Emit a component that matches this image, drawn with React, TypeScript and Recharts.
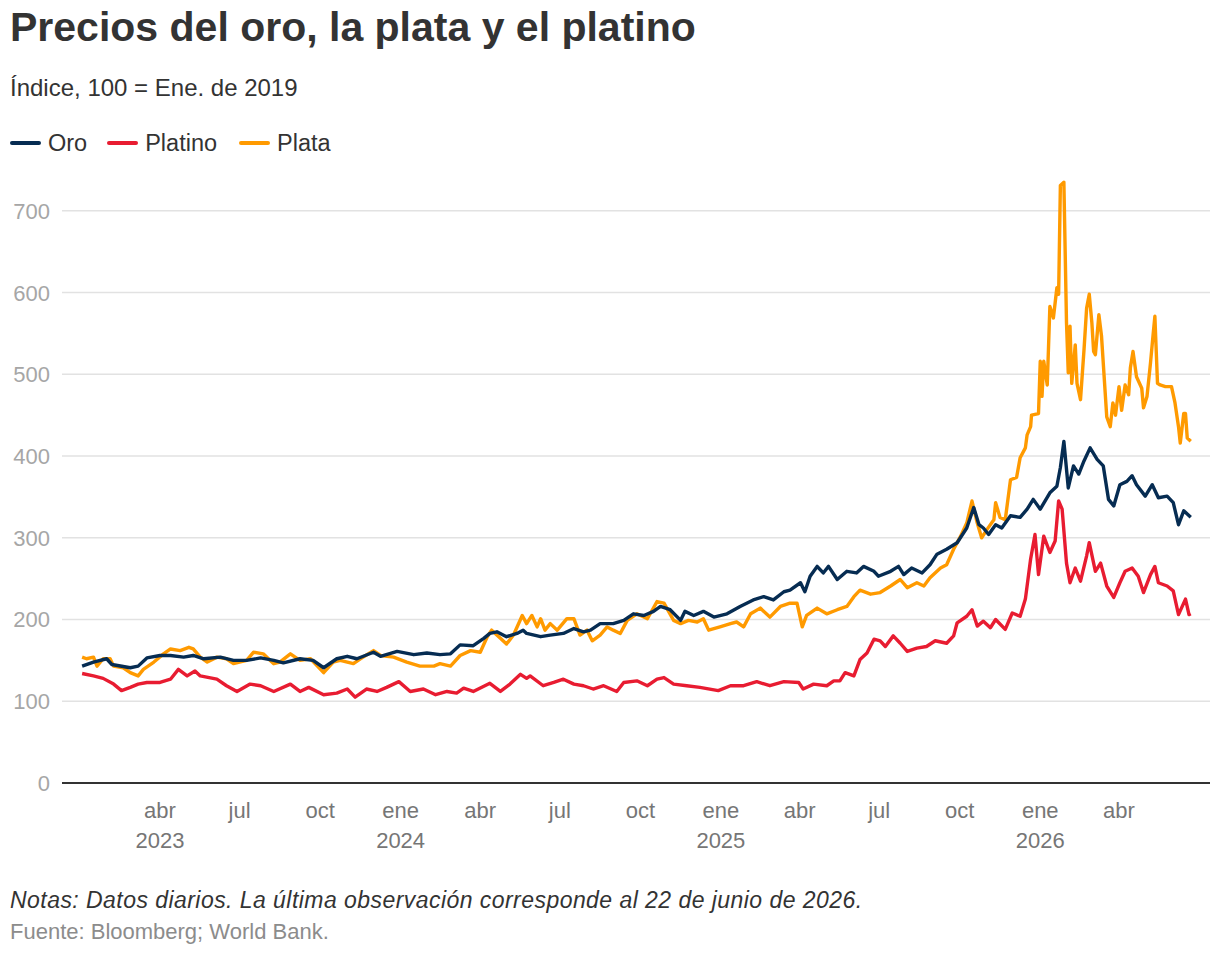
import React from "react";
import { LineChart, Line, XAxis, YAxis, ReferenceLine } from "recharts";

// days counted from 1 Jan 2023, index 100 = Jan 2019
const oro: [number, number][] = [
  [1, 143], [14, 148], [29, 152], [35, 145], [56, 141], [65, 143], [75, 153], [90, 156], [102, 156], [117, 154],
  [128, 156], [140, 152], [159, 154], [174, 150], [189, 150], [205, 153], [220, 150], [231, 147], [250, 152], [265, 150],
  [277, 141], [292, 152], [304, 155], [315, 152], [334, 160], [342, 155], [361, 161], [380, 157], [395, 159], [410, 157],
  [422, 158], [433, 169], [448, 168], [460, 177], [467, 183], [475, 185], [486, 179], [498, 183], [505, 187], [509, 183],
  [525, 179], [536, 181], [551, 183], [563, 189], [574, 185], [582, 187], [593, 195], [608, 195], [620, 199], [631, 207],
  [643, 205], [654, 210], [662, 216], [673, 212], [685, 199], [690, 210], [700, 205], [711, 210], [723, 203], [738, 207],
  [753, 216], [768, 224], [780, 228], [791, 224], [803, 234], [810, 236], [822, 245], [827, 234], [833, 253], [841, 265],
  [848, 257], [854, 265], [864, 249], [875, 259], [886, 257], [894, 265], [906, 259], [911, 253], [925, 259], [934, 265],
  [940, 255], [949, 263], [961, 257], [970, 267], [978, 280], [989, 286], [1001, 294], [1012, 312], [1020, 337], [1026, 316],
  [1031, 312], [1037, 304], [1045, 316], [1052, 312], [1062, 327], [1073, 325], [1081, 335], [1088, 347], [1096, 335], [1107, 355],
  [1115, 363], [1119, 386], [1123, 418], [1128, 361], [1134, 388], [1140, 378], [1146, 394], [1153, 410], [1161, 396], [1168, 388],
  [1174, 347], [1180, 339], [1187, 365], [1195, 369], [1201, 376], [1206, 365], [1216, 351], [1224, 365], [1231, 349], [1241, 351],
  [1248, 343], [1254, 316], [1260, 333], [1268, 325],
];

const platino: [number, number][] = [
  [1, 134], [14, 131], [25, 128], [37, 121], [46, 113], [56, 117], [65, 121], [75, 123], [90, 123], [102, 127],
  [111, 139], [121, 131], [130, 137], [136, 131], [155, 127], [166, 119], [178, 112], [193, 121], [205, 119], [220, 112],
  [239, 121], [250, 112], [260, 117], [277, 108], [292, 110], [304, 115], [313, 105], [326, 115], [338, 112], [349, 117],
  [363, 124], [376, 112], [391, 115], [405, 108], [418, 112], [429, 110], [437, 116], [448, 112], [467, 122], [479, 112],
  [490, 121], [502, 133], [509, 128], [513, 131], [528, 119], [540, 123], [551, 127], [563, 121], [574, 119], [585, 115],
  [597, 119], [612, 112], [620, 123], [635, 125], [647, 119], [658, 127], [666, 129], [677, 121], [692, 119], [707, 117],
  [728, 113], [742, 119], [757, 119], [772, 124], [787, 119], [803, 124], [820, 123], [825, 115], [837, 121], [852, 119],
  [860, 125], [867, 125], [873, 135], [883, 131], [890, 151], [898, 159], [906, 176], [913, 174], [919, 167], [928, 180],
  [936, 171], [944, 161], [955, 165], [966, 167], [976, 174], [989, 171], [997, 180], [1001, 196], [1012, 204], [1018, 212],
  [1024, 192], [1031, 198], [1039, 190], [1045, 200], [1056, 188], [1064, 208], [1073, 204], [1079, 225], [1085, 274], [1090, 304],
  [1094, 255], [1100, 302], [1107, 282], [1113, 296], [1117, 345], [1121, 335], [1126, 269], [1130, 245], [1136, 263], [1142, 247],
  [1149, 278], [1152, 294], [1159, 259], [1165, 269], [1172, 241], [1180, 227], [1187, 245], [1193, 259], [1201, 263], [1208, 253],
  [1214, 233], [1222, 255], [1227, 265], [1231, 245], [1241, 241], [1248, 235], [1254, 206], [1262, 225], [1266, 206], [1268, 207],
];

const plata: [number, number][] = [
  [1, 154], [6, 152], [14, 154], [18, 143], [25, 152], [33, 152], [37, 143], [48, 141], [56, 135], [65, 131],
  [71, 139], [83, 148], [94, 158], [102, 164], [113, 162], [123, 166], [128, 164], [136, 154], [144, 148], [155, 154],
  [166, 152], [174, 146], [189, 150], [197, 160], [208, 158], [220, 146], [227, 148], [239, 158], [250, 150], [262, 152],
  [277, 135], [288, 148], [296, 150], [311, 146], [319, 152], [334, 162], [342, 156], [357, 154], [372, 148], [387, 143],
  [403, 143], [410, 146], [422, 143], [433, 156], [445, 162], [456, 160], [464, 179], [469, 187], [479, 177], [486, 170],
  [494, 181], [504, 205], [509, 195], [515, 205], [521, 191], [525, 201], [530, 187], [536, 195], [544, 187], [555, 201],
  [563, 201], [570, 181], [578, 187], [584, 174], [593, 181], [601, 191], [608, 187], [616, 183], [624, 199], [635, 207],
  [647, 201], [658, 222], [666, 220], [677, 199], [685, 195], [694, 199], [704, 197], [711, 201], [717, 187], [730, 191],
  [742, 195], [749, 197], [757, 191], [765, 207], [776, 214], [787, 203], [799, 216], [810, 220], [818, 220], [824, 191],
  [829, 205], [841, 214], [852, 207], [864, 212], [875, 216], [883, 228], [890, 236], [902, 231], [913, 233], [925, 241],
  [936, 249], [944, 239], [955, 245], [963, 241], [970, 251], [982, 263], [989, 267], [997, 286], [1005, 302], [1012, 318],
  [1018, 345], [1024, 318], [1029, 300], [1035, 310], [1043, 322], [1045, 343], [1050, 325], [1056, 322], [1062, 371], [1069, 374],
  [1073, 398], [1079, 410], [1081, 426], [1085, 436], [1086, 450], [1094, 452], [1096, 516], [1098, 473], [1100, 516], [1104, 487],
  [1107, 583], [1111, 569], [1115, 606], [1117, 598], [1119, 731], [1123, 735], [1126, 563], [1128, 502], [1130, 559], [1132, 489],
  [1136, 536], [1138, 489], [1142, 469], [1146, 530], [1149, 581], [1152, 598], [1155, 563], [1157, 528], [1159, 524], [1163, 573],
  [1166, 547], [1168, 514], [1172, 448], [1176, 436], [1179, 465], [1182, 450], [1186, 485], [1189, 456], [1193, 487], [1197, 475],
  [1199, 508], [1202, 528], [1206, 497], [1212, 483], [1214, 459], [1218, 473], [1222, 514], [1225, 549], [1227, 571], [1230, 489],
  [1233, 487], [1239, 485], [1246, 485], [1250, 465], [1254, 436], [1256, 416], [1260, 452], [1262, 452], [1264, 422], [1268, 418],
];

const tickDays = [90, 181, 273, 365, 456, 547, 639, 731, 821, 912, 1004, 1096, 1186];
const tickMonths = ["abr", "jul", "oct", "ene", "abr", "jul", "oct", "ene", "abr", "jul", "oct", "ene", "abr"];
const tickYears = ["2023", "", "", "2024", "", "", "", "2025", "", "", "", "2026", ""];
const yTicks = [0, 100, 200, 300, 400, 500, 600, 700];

const series = [
  { key: "oro", name: "Oro", color: "#062c52", points: oro },
  { key: "platino", name: "Platino", color: "#e81c31", points: platino },
  { key: "plata", name: "Plata", color: "#ff9a00", points: plata },
];

// merge the three series on one day axis
const table = (() => {
  const rows = new Map<number, Record<string, number>>();
  for (const s of series) {
    for (const [d, v] of s.points) {
      const row = rows.get(d) ?? { d };
      row[s.key] = v;
      rows.set(d, row);
    }
  }
  return [...rows.values()].sort((a, b) => a.d - b.d);
})();

const FONT = '"Liberation Sans", Arial, Helvetica, sans-serif';
const PLOT_BOTTOM = 783;

function XTick({ x, payload }: any) {
  const i = tickDays.indexOf(payload.value);
  return (
    <text x={x} textAnchor="middle" fontSize={22} fill="#767676" fontFamily={FONT}>
      <tspan x={x} y={PLOT_BOTTOM + 35}>{tickMonths[i]}</tspan>
      {tickYears[i] && <tspan x={x} y={PLOT_BOTTOM + 65}>{tickYears[i]}</tspan>}
    </text>
  );
}

function YTick({ y, payload }: any) {
  return (
    <text x={50} y={y} dy="0.36em" textAnchor="end" fontSize={22} fill="#a6a6a6" fontFamily={FONT}>
      {payload.value}
    </text>
  );
}

export default function App() {
  return (
    <div style={{ position: "relative", width: 1220, height: 956, fontFamily: FONT, color: "#333" }}>
      <style>{"body{margin:0}"}</style>
      <div style={{ position: "absolute", left: 10, top: 7, fontSize: 41, lineHeight: "41px", fontWeight: 700, color: "#333", whiteSpace: "nowrap" }}>
        Precios del oro, la plata y el platino
      </div>
      <div style={{ position: "absolute", left: 10, top: 76, fontSize: 24, lineHeight: "24px", color: "#333", whiteSpace: "nowrap" }}>
        Índice, 100 = Ene. de 2019
      </div>
      <div style={{ position: "absolute", left: 10, top: 130, display: "flex", alignItems: "center", fontSize: 23.5, lineHeight: "26px" }}>
        {series.map((s, i) => (
          <div key={s.key} style={{ display: "flex", alignItems: "center", marginRight: i === 0 ? 20 : 22 }}>
            <div style={{ width: 31, height: 4, borderRadius: 2, background: s.color, marginRight: 7 }} />
            <span>{s.name}</span>
          </div>
        ))}
      </div>

      <div style={{ position: "absolute", left: 0, top: 0 }}>
        <LineChart width={1220} height={956} data={table} margin={{ top: 170, right: 10, bottom: 113, left: 0 }}>
          {yTicks.slice(1).map((t) => (
            <ReferenceLine key={t} y={t} stroke="#e2e2e2" strokeWidth={1.5} />
          ))}
          <XAxis
            type="number"
            dataKey="d"
            domain={[-22, 1290]}
            ticks={tickDays}
            interval={0}
            height={60}
            tickLine={false}
            axisLine={{ stroke: "#333", strokeWidth: 2 }}
            tick={<XTick />}
            allowDataOverflow
          />
          <YAxis
            type="number"
            domain={[0, 750]}
            ticks={yTicks}
            interval={0}
            width={62}
            tickLine={false}
            axisLine={false}
            tick={<YTick />}
          />
          {[series[2], series[1], series[0]].map((s) => (
            <Line
              key={s.key}
              dataKey={s.key}
              name={s.name}
              stroke={s.color}
              strokeWidth={3.4}
              dot={false}
              activeDot={false}
              connectNulls
              type="linear"
              strokeLinejoin="round"
              isAnimationActive={false}
            />
          ))}
        </LineChart>
      </div>

      <div style={{ position: "absolute", left: 10, top: 888, fontSize: 23, lineHeight: "24px", letterSpacing: 0.45, fontStyle: "italic", color: "#333", whiteSpace: "nowrap" }}>
        Notas: Datos diarios. La última observación corresponde al 22 de junio de 2026.
      </div>
      <div style={{ position: "absolute", left: 10, top: 921, fontSize: 22, lineHeight: "22px", color: "#8c8c8c", whiteSpace: "nowrap" }}>
        Fuente: Bloomberg; World Bank.
      </div>
    </div>
  );
}
